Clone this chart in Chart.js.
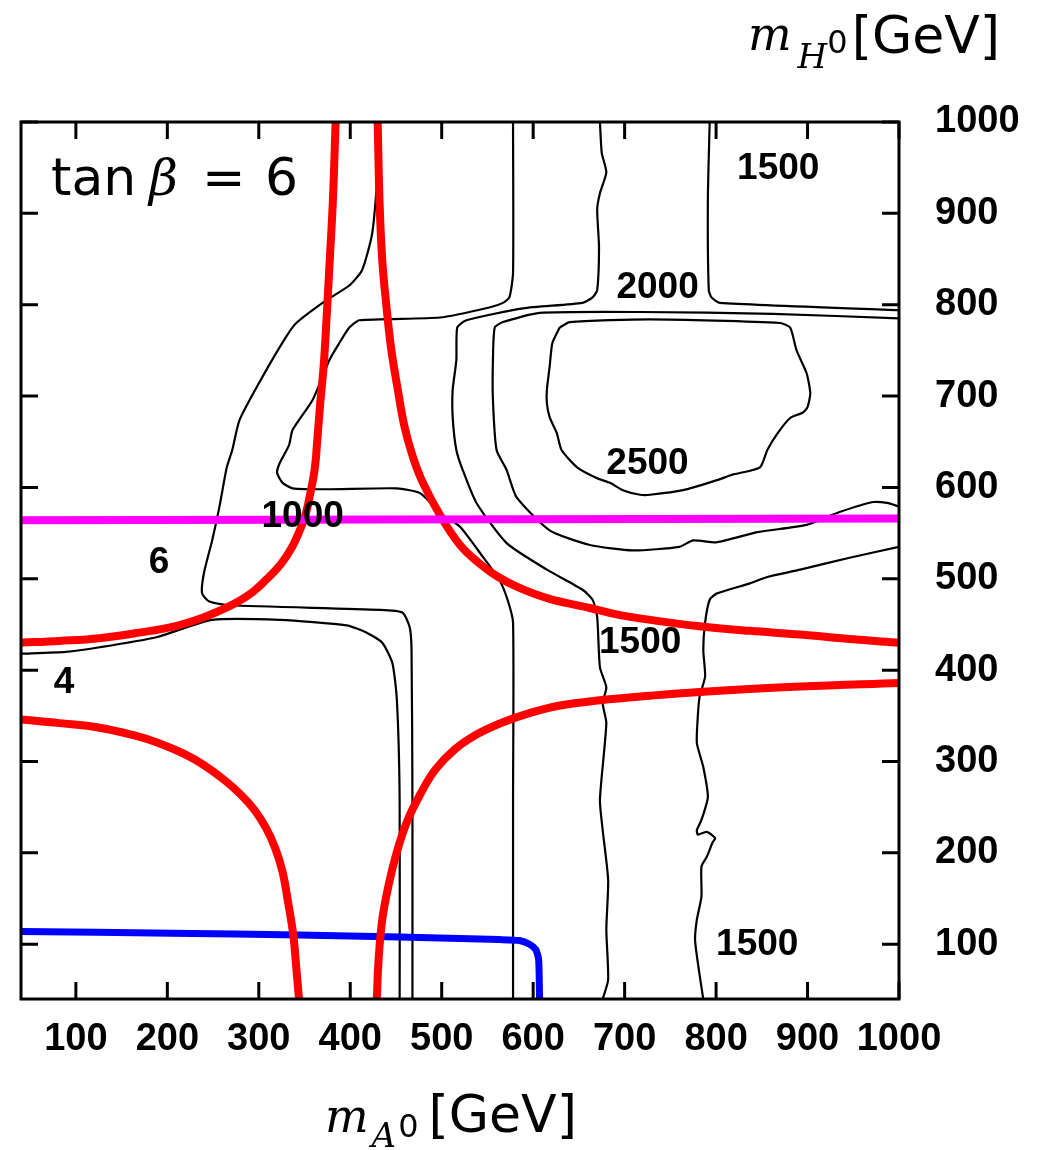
<!DOCTYPE html>
<html>
<head>
<meta charset="utf-8">
<script src="https://cdn.jsdelivr.net/npm/chart.js@4/dist/chart.umd.min.js"></script>
<style>
  html, body { margin: 0; padding: 0; background: #fff; }
  #wrap { width: 1040px; height: 1150px; }
</style>
</head>
<body>
<div id="wrap"><canvas id="plot" width="1040" height="1150"></canvas></div>
<script>
// axes: m_A0 and m_H0 in GeV
const xRange = [40, 1000];
const yRange = [40, 1000];
const xTicks = [100, 200, 300, 400, 500, 600, 700, 800, 900, 1000];
const yTicks = [100, 200, 300, 400, 500, 600, 700, 800, 900, 1000];

// black contours [mA, mH]
const contourLeftEdge = [[40,418],[89,420],[126,425],[188,436],[249,455],[323,455],[396,449],[418,441],[435,430],[446,408],[451,367],[454,258],[454,40]];
const contourOuterLoop = [[429,1000],[429,933],[424,878],[413,838],[399,821],[374,805],[341,780],[330,765],[304,721],[279,674],[271,641],[265,622],[257,579],[249,542],[240,506],[238,484],[246,475],[268,471],[432,466],[457,463],[465,447],[467,422],[468,258],[468,40]];
const contourInnerLoop = [[578,1000],[578,835],[574,808],[567,802],[552,797],[498,786],[410,783],[399,775],[388,758],[377,739],[359,696],[337,663],[333,646],[323,627],[320,616],[326,605],[337,599],[374,598],[451,599],[476,594],[487,584],[498,572],[520,557],[545,524],[563,499],[572,477],[578,452],[578,258],[578,40]];
const contourMid = [[673,1000],[675,966],[680,945],[673,922],[670,904],[672,863],[670,816],[665,808],[654,802],[589,796],[527,783],[517,775],[516,739],[512,707],[512,677],[516,641],[523,619],[538,583],[571,539],[615,510],[654,488],[665,477],[670,458],[673,403],[680,381],[676,364],[680,342],[673,258],[676,225],[682,170],[680,116],[682,61],[676,40]];
const contourTopRight = [[793,1000],[791,914],[792,816],[795,808],[804,802],[1000,794]];
const contourBand = [[1000,785],[862,790],[717,792],[607,791],[567,781],[558,775],[556,739],[556,696],[560,641],[571,619],[582,589],[618,553],[662,537],[709,531],[760,535],[775,542],[801,540],[845,551],[899,559],[935,573],[972,584],[987,583],[1000,579]];
const contourRight = [[1000,535],[946,523],[892,510],[856,502],[837,495],[801,484],[793,477],[788,452],[786,422],[788,393],[782,371],[780,349],[779,320],[786,294],[791,261],[784,236],[779,225],[780,220],[790,223],[799,216],[796,211],[790,196],[784,185],[784,152],[779,127],[777,105],[780,80],[784,53],[786,40]];
const contour2500 = [[629,775],[640,781],[728,784],[870,780],[881,775],[888,750],[899,725],[903,703],[900,688],[895,682],[881,676],[867,659],[856,641],[848,622],[818,614],[801,608],[764,597],[728,592],[717,592],[698,597],[684,605],[670,610],[648,622],[631,641],[626,659],[618,677],[615,692],[615,707],[618,732],[621,758],[629,775]];

// red curves
const redUpperLeft = [[40,430],[82,432],[126,435],[169,441],[208,448],[240,458],[268,470],[290,483],[308,499],[324,516],[336,534],[344,551],[351,570],[356,592],[361,619],[364,652],[367,690],[371,734],[374,783],[377,838],[381,914],[384,1000]];
const redUpperRight = [[430,1000],[432,914],[435,849],[440,794],[445,750],[452,707],[459,668],[468,635],[479,606],[498,570],[520,537],[541,517],[560,503],[585,490],[618,478],[662,468],[691,461],[728,455],[782,448],[837,443],[892,439],[946,434],[1000,430]];
const redLowerLeft = [[40,346],[82,342],[126,337],[162,329],[191,320],[219,308],[240,296],[262,280],[281,263],[296,246],[308,227],[318,205],[326,179],[332,146],[338,108],[341,74],[344,40]];
const redLowerRight = [[429,40],[431,83],[435,127],[442,165],[451,201],[462,234],[476,263],[493,291],[514,313],[539,330],[567,343],[596,353],[628,361],[673,367],[728,372],[782,376],[892,382],[1000,386]];

// magenta and blue bounds
const magentaLine = [[40,564],[1000,566]];
const blueLine = [[40,114],[205,112],[344,110],[454,108],[563,105],[585,104],[596,100],[603,94],[606,83],[607,40]];

// contour labels
const contourLabels = [
  { text: '1500', x: 868, y: 949 },
  { text: '2000', x: 736, y: 818 },
  { text: '2500', x: 725, y: 626 },
  { text: '1000', x: 348, y: 568 },
  { text: '6', x: 191, y: 517 },
  { text: '4', x: 87, y: 386 },
  { text: '1500', x: 717, y: 430 },
  { text: '1500', x: 845, y: 99 }
];

const TICK_FONT = { family: 'Liberation Sans, Arial, sans-serif', size: 38, weight: 'bold' };
const TICK_LEN = 17;

function curve(points, color, width, order, tension) {
  return {
    data: points.map(([x, y]) => ({ x, y })),
    showLine: true,
    borderColor: color,
    borderWidth: width,
    pointRadius: 0,
    tension: tension,
    fill: false,
    clip: 0,
    order: order,
    borderJoinStyle: 'round'
  };
}

const blackCurves = [contourLeftEdge, contourOuterLoop, contourInnerLoop, contourMid,
  contourTopRight, contourBand, contourRight, contour2500];
const redCurves = [redUpperLeft, redUpperRight, redLowerLeft, redLowerRight];

const datasets = [
  curve(magentaLine, '#ff00ff', 8, 0, 0),
  ...redCurves.map(c => curve(c, '#ff0000', 8, 1, 0.4)),
  curve(blueLine, '#0000ff', 7, 2, 0.2),
  ...blackCurves.map(c => curve(c, '#000000', 2.2, 3, 0.2))
];

// frame with inward ticks on all four sides
const frameTicks = {
  id: 'frameTicks',
  afterDatasetsDraw(chart) {
    const { ctx, chartArea: a, scales } = chart;
    ctx.save();
    ctx.strokeStyle = '#000';
    ctx.lineWidth = 3;
    ctx.strokeRect(a.left, a.top, a.right - a.left, a.bottom - a.top);
    ctx.beginPath();
    xTicks.forEach(v => {
      const px = scales.x.getPixelForValue(v);
      ctx.moveTo(px, a.bottom); ctx.lineTo(px, a.bottom - TICK_LEN);
      ctx.moveTo(px, a.top); ctx.lineTo(px, a.top + TICK_LEN);
    });
    yTicks.forEach(v => {
      const py = scales.y.getPixelForValue(v);
      ctx.moveTo(a.left, py); ctx.lineTo(a.left + TICK_LEN, py);
      ctx.moveTo(a.right, py); ctx.lineTo(a.right - TICK_LEN, py);
    });
    ctx.stroke();
    ctx.restore();
  }
};

// draws a run of text pieces one after the other
function drawRuns(ctx, x, runs) {
  runs.forEach(r => {
    ctx.font = r.font;
    ctx.fillText(r.t, x, r.y);
    x += ctx.measureText(r.t).width + (r.gap || 0);
  });
}

const annotations = {
  id: 'annotations',
  afterDraw(chart) {
    const { ctx, scales } = chart;
    ctx.save();
    ctx.fillStyle = '#000';

    ctx.font = 'bold 37px "Liberation Sans", Arial, sans-serif';
    ctx.textAlign = 'center';
    ctx.textBaseline = 'middle';
    contourLabels.forEach(l => {
      ctx.fillText(l.text, scales.x.getPixelForValue(l.x), scales.y.getPixelForValue(l.y));
    });

    ctx.textAlign = 'left';
    ctx.textBaseline = 'alphabetic';
    // tan beta = 6
    ctx.font = '52px "DejaVu Sans"';
    ctx.fillText('tan', 51, 195);
    ctx.font = 'italic 50px "DejaVu Serif"';
    ctx.fillText('\u03b2', 149, 195);
    ctx.font = '52px "DejaVu Sans"';
    ctx.fillText('=', 202, 195);
    ctx.fillText('6', 265, 195);

    // x axis title
    drawRuns(ctx, 325, [
      { t: 'm', font: 'italic 46px "DejaVu Serif"', y: 1132, gap: 3 },
      { t: 'A', font: 'italic 34px "DejaVu Serif"', y: 1147, gap: 2 },
      { t: '0', font: '32px "DejaVu Sans"', y: 1137, gap: 10 },
      { t: '[GeV]', font: '52px "DejaVu Sans"', y: 1132 }
    ]);
    // y axis title
    drawRuns(ctx, 748, [
      { t: 'm', font: 'italic 46px "DejaVu Serif"', y: 50, gap: 6 },
      { t: 'H', font: 'italic 34px "DejaVu Serif"', y: 68, gap: 0 },
      { t: '0', font: '32px "DejaVu Sans"', y: 53, gap: 4 },
      { t: '[GeV]', font: '52px "DejaVu Sans"', y: 53 }
    ]);
    ctx.restore();
  }
};

new Chart(document.getElementById('plot'), {
  type: 'scatter',
  data: { datasets },
  options: {
    responsive: false,
    animation: false,
    events: [],
    layout: { padding: { top: 122, left: 21, right: 0, bottom: 0 } },
    plugins: { legend: { display: false }, tooltip: { enabled: false } },
    scales: {
      x: {
        type: 'linear',
        position: 'bottom',
        min: xRange[0],
        max: xRange[1],
        grid: { display: false, drawTicks: false },
        border: { display: false },
        afterBuildTicks: s => { s.ticks = xTicks.map(v => ({ value: v })); },
        afterFit: s => { s.height = 151; },
        ticks: { padding: 18, font: TICK_FONT, color: '#000', maxRotation: 0, autoSkip: false, callback: v => String(v) }
      },
      y: {
        type: 'linear',
        position: 'right',
        min: yRange[0],
        max: yRange[1],
        grid: { display: false, drawTicks: false },
        border: { display: false },
        afterBuildTicks: s => { s.ticks = yTicks.map(v => ({ value: v })); },
        afterFit: s => { s.width = 141; },
        ticks: { padding: 36, font: TICK_FONT, color: '#000', autoSkip: false, callback: v => String(v) }
      }
    }
  },
  plugins: [frameTicks, annotations]
});
</script>
</body>
</html>
